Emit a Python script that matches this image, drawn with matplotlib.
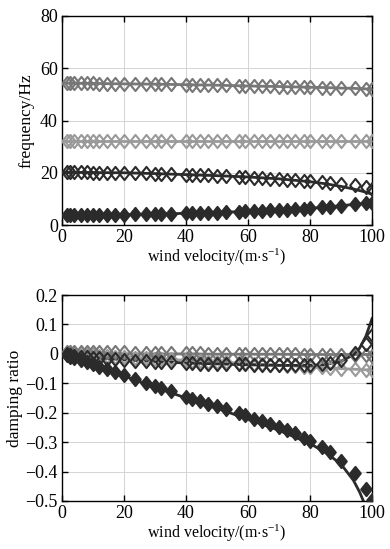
import matplotlib
matplotlib.use("Agg")
import matplotlib.pyplot as plt
from matplotlib.path import Path

plt.rcParams["font.family"] = ["Liberation Serif", "DejaVu Serif"]
plt.rcParams["mathtext.fontset"] = "custom"
plt.rcParams["mathtext.rm"] = "Liberation Serif"
plt.rcParams["mathtext.it"] = "Liberation Serif:italic"
plt.rcParams["font.size"] = 10.5

# wind velocities where the markers sit
v_pts = [1.5, 2.5, 4, 6, 8, 10, 12, 14.5, 17, 20, 23.5, 27, 30, 32, 35, 40, 42, 44.5, 47,
         50, 53, 57, 59, 62, 64.5, 67, 70, 72.5, 75, 78, 80, 84, 86.5, 90, 94.5, 98, 100]
# velocities for the fitted curves
v_line = [0, 10, 20, 30, 40, 50, 60, 70, 80, 85, 90, 94, 96, 98, 100]

# frequency (Hz), markers
f1_pts = [3.8, 3.8, 3.8, 3.8, 3.9, 3.9, 3.9, 3.9, 4.0, 4.0, 4.1, 4.2, 4.3, 4.3, 4.4, 4.5, 4.6,
          4.7, 4.7, 4.8, 4.9, 5.1, 5.2, 5.4, 5.5, 5.6, 5.8, 5.9, 6.1, 6.3, 6.4, 6.8, 7.0,
          7.4, 7.9, 8.3, 8.5]
f2_pts = [20.2, 20.2, 20.2, 20.2, 20.2, 20.1, 20.1, 20.1, 20.0, 20.0, 19.9, 19.8, 19.7,
          19.6, 19.5, 19.3, 19.2, 19.1, 19.0, 18.8, 18.7, 18.4, 18.3, 18.1, 17.9, 17.7,
          17.5, 17.3, 17.1, 16.9, 16.7, 16.4, 16.2, 15.8, 15.3, 14.4, 13.8]
f3_pts = [32.3] * 37
f4_pts = [54.3, 54.3, 54.3, 54.2, 54.2, 54.2, 54.1, 54.1, 54.1, 54.0, 54.0, 53.9, 53.9,
          53.8, 53.8, 53.7, 53.6, 53.6, 53.5, 53.5, 53.4, 53.3, 53.3, 53.2, 53.1, 53.1,
          53.0, 52.9, 52.9, 52.8, 52.7, 52.6, 52.5, 52.4, 52.3, 52.1, 52.0]

# frequency (Hz), curves
f1_line = [3.8, 3.9, 4.0, 4.2, 4.5, 4.8, 5.3, 5.8, 6.4, 6.9, 7.4, 7.9, 8.1, 8.4, 8.6]
f2_line = [20.2, 20.1, 20.0, 19.7, 19.3, 18.9, 18.4, 17.7, 16.6, 15.8, 14.8, 13.8, 13.2,
           12.6, 11.8]
f3_line = [32.2] * 15
f4_line = [54.3, 54.2, 54.0, 53.9, 53.7, 53.5, 53.2, 53.0, 52.7, 52.6, 52.4, 52.3, 52.2,
           52.1, 52.0]

# damping ratio, markers
d1_pts = [-0.005, -0.009, -0.015, -0.022, -0.029, -0.036, -0.043, -0.052, -0.061, -0.072,
          -0.085, -0.098, -0.109, -0.116, -0.127, -0.145, -0.152, -0.161, -0.169, -0.178,
          -0.188, -0.202, -0.209, -0.22, -0.229, -0.238, -0.25, -0.26, -0.27, -0.285,
          -0.295, -0.318, -0.333, -0.365, -0.405, -0.458, -0.497]
d2_pts = [-0.002, -0.004, -0.006, -0.009, -0.011, -0.013, -0.015, -0.017, -0.019, -0.021,
          -0.023, -0.025, -0.027, -0.028, -0.029, -0.031, -0.032, -0.033, -0.034, -0.035,
          -0.035, -0.036, -0.036, -0.037, -0.037, -0.038, -0.038, -0.038, -0.038, -0.038,
          -0.038, -0.034, -0.03, -0.02, 0.003, 0.035, 0.063]
d3_pts = [-0.001, -0.001, -0.002, -0.003, -0.004, -0.005, -0.007, -0.008, -0.009, -0.011,
          -0.013, -0.015, -0.016, -0.018, -0.019, -0.022, -0.023, -0.024, -0.026, -0.027,
          -0.029, -0.031, -0.032, -0.034, -0.035, -0.037, -0.038, -0.04, -0.041, -0.043,
          -0.044, -0.046, -0.048, -0.05, -0.052, -0.054, -0.055]
d4_pts = [0.006, 0.006, 0.006, 0.006, 0.006, 0.005, 0.005, 0.005, 0.005, 0.005, 0.004,
          0.004, 0.004, 0.003, 0.003, 0.002, 0.002, 0.002, 0.001, 0.001, 0.001, 0.0, 0.0,
          0.0, -0.001, -0.001, -0.001, -0.002, -0.002, -0.003, -0.003, -0.003, -0.004,
          -0.004, -0.005, -0.005, -0.006]

# damping ratio, curves
d1_line = [0.0, -0.037, -0.075, -0.113, -0.15, -0.185, -0.222, -0.26, -0.305, -0.335,
           -0.375, -0.43, -0.47, -0.52, -0.6]
d2_line = [0.0, -0.012, -0.02, -0.026, -0.031, -0.034, -0.037, -0.039, -0.039, -0.036,
           -0.025, -0.003, 0.02, 0.06, 0.12]
d3_line = [0.0, -0.005, -0.011, -0.016, -0.022, -0.027, -0.033, -0.038, -0.044, -0.047,
           -0.05, -0.052, -0.053, -0.054, -0.055]
d4_line = [0.0, 0.0, 0.0, 0.0, 0.0, -0.001, -0.001, -0.001, -0.002, -0.002, -0.002,
           -0.002, -0.002, -0.002, -0.002]

dark = "#2b2b2b"
mid = "#777777"
light = "#9a9a9a"

diamond = Path([(0, 1), (0.8, 0), (0, -1), (-0.8, 0), (0, 1)],
               [Path.MOVETO, Path.LINETO, Path.LINETO, Path.LINETO, Path.CLOSEPOLY])


def draw_panel(ax, series):
    for line_vals, pts, color, filled in series:
        ax.plot(v_line, line_vals, color=color, lw=2.0, zorder=2)
        ax.plot(v_pts, pts, linestyle="none", marker=diamond, ms=9.5,
                mec=color, mew=1.5, mfc=color if filled else "none", zorder=3)
    ax.set_xlim(0, 100)
    ax.set_xticks([0, 20, 40, 60, 80, 100])
    ax.grid(True, color="#d4d4d4", lw=0.7)
    ax.set_axisbelow(True)
    ax.tick_params(direction="in", top=True, right=True, length=4, width=1, pad=3,
                   labelsize=13)
    for side in ax.spines.values():
        side.set_linewidth(1.0)
    ax.set_xlabel(r"wind velocity/(m$\cdot$s$^{-1}$)", fontsize=11.5, labelpad=0.5)


fig = plt.figure(figsize=(3.9, 5.49), dpi=100)
ax1 = fig.add_axes([0.159, 0.590, 0.795, 0.381])
ax2 = fig.add_axes([0.159, 0.0875, 0.795, 0.375])

draw_panel(ax1, [
    (f1_line, f1_pts, dark, True),
    (f2_line, f2_pts, dark, False),
    (f3_line, f3_pts, light, False),
    (f4_line, f4_pts, mid, False),
])
ax1.set_ylim(0, 80)
ax1.set_yticks([0, 20, 40, 60, 80])
ax1.set_ylabel("frequency/Hz", fontsize=12.5, labelpad=4)

draw_panel(ax2, [
    (d3_line, d3_pts, light, False),
    (d4_line, d4_pts, mid, False),
    (d1_line, d1_pts, dark, True),
    (d2_line, d2_pts, dark, False),
])
ax2.set_ylim(-0.5, 0.2)
ax2.set_yticks([-0.5, -0.4, -0.3, -0.2, -0.1, 0, 0.1, 0.2])
ax2.set_yticklabels(["\u22120.5", "\u22120.4", "\u22120.3", "\u22120.2", "\u22120.1",
                     "0", "0.1", "0.2"])
ax2.set_ylabel("damping ratio", fontsize=12.5, labelpad=2)

fig.savefig("out.png", dpi=100)
